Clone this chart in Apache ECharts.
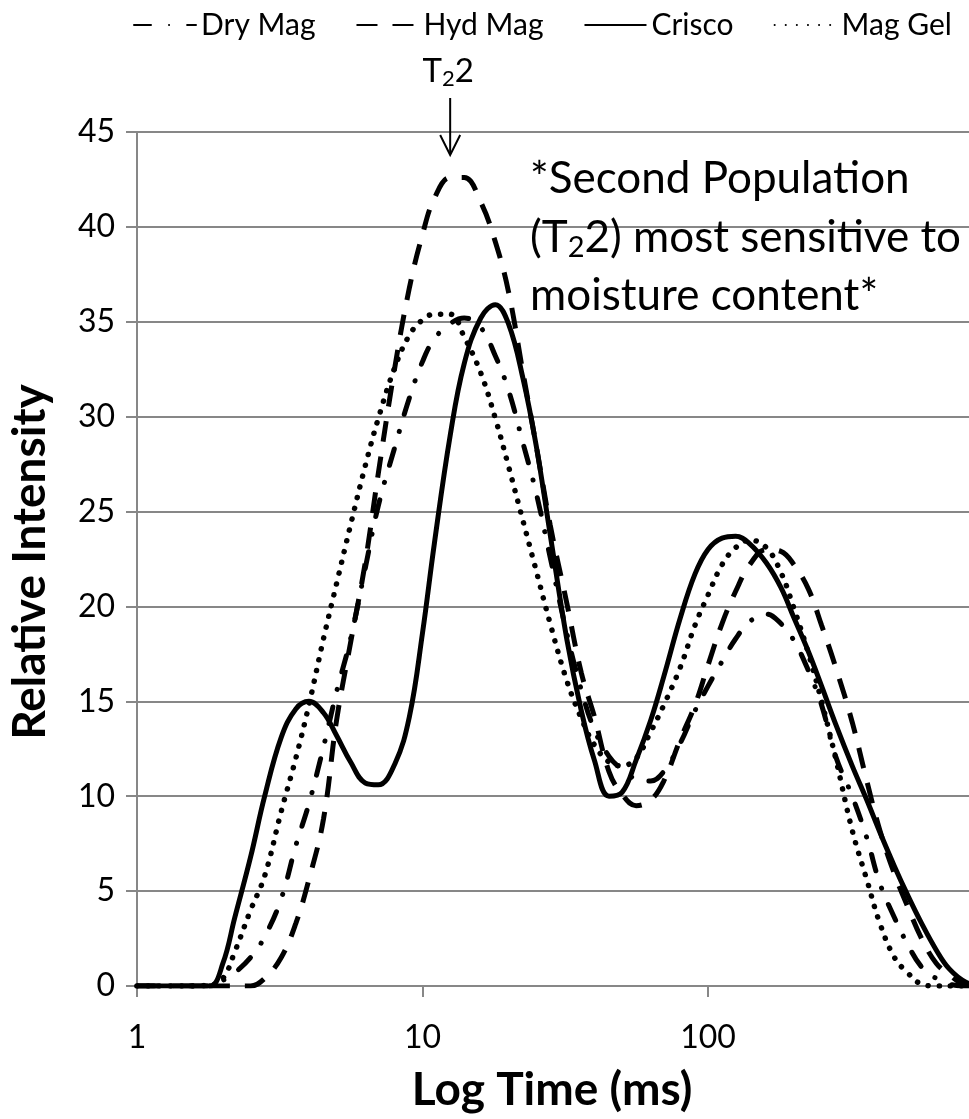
<!DOCTYPE html>
<html>
<head>
<meta charset="utf-8">
<script src="https://cdn.jsdelivr.net/npm/echarts@6/dist/echarts.min.js"></script>
<style>
  html, body { margin: 0; padding: 0; background: #fff; overflow: hidden; }
  /* the log axis runs on to 1000 ms, a little past the right edge of the window */
  #chart { width: 1000px; height: 1119px; }
</style>
</head>
<body>
<div id="chart"></div>
<script>
// Relaxation time grid (ms), shared by all samples
const times = [1, 1.5, 1.8, 2, 2.2, 2.5, 2.8, 3.2, 3.6, 4, 4.5, 5, 5.6, 6.3, 7, 8, 9, 10, 11, 12.5,
  14, 16, 18, 20, 22.5, 25, 28, 32, 36, 40, 45, 50, 56, 63, 70, 80, 90, 100, 112, 125,
  140, 160, 180, 200, 225, 250, 280, 320, 360, 400, 450, 500, 560, 630, 700, 800, 900, 1000];

// Relative intensity of each sample at those times
const dryMag = [0, 0, 0, 0.3, 0.7, 1.5, 2.6, 4.6, 7.4, 9.6, 12.6, 15.5, 18.3, 22.0, 25.3, 28.4, 31.0, 32.9, 34.1, 34.9,
  35.2, 34.7, 33.2, 31.4, 28.6, 26.0, 22.6, 18.6, 15.6, 13.5, 12.1, 11.4, 10.9, 10.8, 11.3, 12.8, 14.5, 15.8, 17.1, 18.3,
  19.2, 19.6, 19.1, 18.2, 16.6, 14.8, 12.1, 10.0, 7.8, 5.4, 3.6, 2.2, 1.0, 0.4, 0.1, 0, 0, 0];

const hydMag = [0, 0, 0, 0, 0, 0, 0.4, 1.5, 3.3, 5.6, 8.8, 14.0, 18.1, 22.3, 27.0, 32.6, 36.8, 39.6, 41.5, 42.6,
  42.6, 41.3, 39.2, 36.6, 32.3, 28.5, 24.3, 20.2, 16.5, 14.2, 11.3, 10.1, 9.5, 9.8, 10.8, 13.0, 14.8, 16.9, 19.1, 20.8,
  22.2, 23.0, 22.9, 22.2, 20.9, 19.0, 16.8, 13.9, 10.8, 8.2, 5.9, 4.2, 2.5, 1.2, 0.6, 0.05, 0, 0];

const crisco = [0, 0, 0, 1.2, 3.6, 6.8, 10.0, 13.1, 14.6, 15.0, 14.4, 13.2, 11.8, 10.7, 10.6, 11.7, 14.2, 18.6, 23.3, 29.0,
  32.8, 35.2, 35.9, 34.9, 32.0, 28.5, 23.8, 18.3, 14.5, 11.9, 10.0, 10.2, 11.9, 14.0, 16.3, 19.4, 21.7, 23.0, 23.6, 23.7,
  23.3, 22.3, 21.0, 19.4, 17.6, 15.8, 13.8, 11.6, 9.8, 8.1, 6.3, 4.8, 3.3, 1.9, 0.9, 0.2, 0, 0];

const magGel = [0, 0, 0.05, 0.4, 1.8, 4.0, 5.8, 9.2, 12.0, 14.8, 18.3, 21.2, 24.3, 27.4, 29.9, 32.6, 34.3, 35.1, 35.4, 35.4,
  34.2, 32.3, 29.9, 27.4, 24.5, 21.9, 19.1, 16.1, 14.1, 12.7, 11.8, 11.6, 12.0, 13.4, 14.8, 16.8, 19.0, 20.6, 22.2, 23.1,
  23.5, 23.1, 21.8, 19.9, 17.5, 15.0, 12.0, 8.2, 5.6, 3.3, 1.5, 0.7, 0.1, 0, 0, 0, 0, 0];

const seriesNames = ['Dry Mag', 'Hyd Mag', 'Crisco', 'Mag Gel'];
const xTickLabels = ['1', '10', '100'];
const T2_PEAK_TIME = 12.5;

const FONT = 'Lato';
const GRID_GRAY = '#878787';
const pairs = vals => times.map((t, i) => [t, vals[i]]);

const chart = echarts.init(document.getElementById('chart'), null, { renderer: 'canvas' });

const lineSeries = (name, vals, lineStyle) => ({
  name, type: 'line', data: pairs(vals), smooth: 0.4, symbol: 'none', showSymbol: false,
  lineStyle: Object.assign({ color: '#000', width: 5 }, lineStyle)
});

chart.setOption({
  animation: false,
  backgroundColor: '#fff',
  textStyle: { fontFamily: FONT, color: '#000' },
  grid: { left: 137, right: 6.5, top: 132, bottom: 133, containLabel: false },
  legend: {
    data: seriesNames,
    left: 128, top: 5,
    itemWidth: 62, itemHeight: 16, itemGap: 40,
    itemStyle: { opacity: 0 },
    textStyle: { fontSize: 30, fontFamily: FONT, color: '#000' }
  },
  xAxis: {
    type: 'log', logBase: 10, min: 1, max: 1000,
    axisLine: { show: true, lineStyle: { color: GRID_GRAY, width: 2 } },
    axisTick: { show: true, length: 11, lineStyle: { color: GRID_GRAY, width: 2 } },
    minorTick: { show: false },
    splitLine: { show: false },
    axisLabel: {
      fontSize: 32, fontFamily: FONT, color: '#000', margin: 36,
      formatter: (v, i) => (xTickLabels[i] !== undefined ? xTickLabels[i] : '')
    }
  },
  yAxis: {
    type: 'value', min: 0, max: 45, interval: 5,
    axisLine: { show: true, lineStyle: { color: GRID_GRAY, width: 2 } },
    axisTick: { show: true, length: 11, lineStyle: { color: GRID_GRAY, width: 2 } },
    splitLine: { show: true, lineStyle: { color: GRID_GRAY, width: 2 } },
    axisLabel: { fontSize: 32, fontFamily: FONT, color: '#000', margin: 22 }
  },
  series: [
    lineSeries('Dry Mag', dryMag, { type: [17, 18, 0.1, 18], cap: 'round' }),
    lineSeries('Hyd Mag', hydMag, { type: [21, 15], cap: 'butt' }),
    lineSeries('Crisco', crisco, { type: 'solid' }),
    lineSeries('Mag Gel', magGel, { type: [0.1, 11], cap: 'round', width: 5.5 })
  ]
});

// Axis titles and the T2-2 annotation
const arrowX = chart.convertToPixel({ xAxisIndex: 0 }, T2_PEAK_TIME);
const subStyle = size => ({ fontSize: size, fontFamily: FONT, fill: '#000', padding: [Math.round(size * 0.7), 0, 0, 0] });

chart.setOption({
  graphic: [
    {
      type: 'text', x: 30, y: 562, rotation: Math.PI / 2,
      style: { text: 'Relative Intensity', fontSize: 46, fontWeight: 'bold', fontFamily: FONT,
        fill: '#000', align: 'center', verticalAlign: 'middle' }
    },
    {
      type: 'text', x: 552, y: 1090,
      style: { text: 'Log Time (ms)', fontSize: 46, fontWeight: 'bold', fontFamily: FONT,
        fill: '#000', align: 'center', verticalAlign: 'middle' }
    },
    {
      type: 'text', x: arrowX - 2, y: 71,
      style: { text: 'T{s|2}2', fontSize: 33, fontFamily: FONT, fill: '#000',
        align: 'center', verticalAlign: 'middle', rich: { s: subStyle(22) } }
    },
    {
      type: 'line', shape: { x1: arrowX, y1: 98, x2: arrowX, y2: 154 },
      style: { stroke: '#000', lineWidth: 2 }
    },
    {
      type: 'polyline', shape: { points: [[arrowX - 10, 135], [arrowX, 155], [arrowX + 10, 135]] },
      style: { stroke: '#000', lineWidth: 2, fill: null }
    },
    {
      type: 'text', x: 530, y: 179,
      style: { text: '*Second Population', fontSize: 44, fontFamily: FONT, fill: '#000',
        align: 'left', verticalAlign: 'middle' }
    },
    {
      type: 'text', x: 530, y: 238,
      style: { text: '(T{s|2}2) most sensitive to', fontSize: 44, fontFamily: FONT, fill: '#000',
        align: 'left', verticalAlign: 'middle', rich: { s: subStyle(29) } }
    },
    {
      type: 'text', x: 530, y: 296,
      style: { text: 'moisture content*', fontSize: 44, fontFamily: FONT, fill: '#000',
        align: 'left', verticalAlign: 'middle' }
    }
  ]
});
</script>
</body>
</html>
